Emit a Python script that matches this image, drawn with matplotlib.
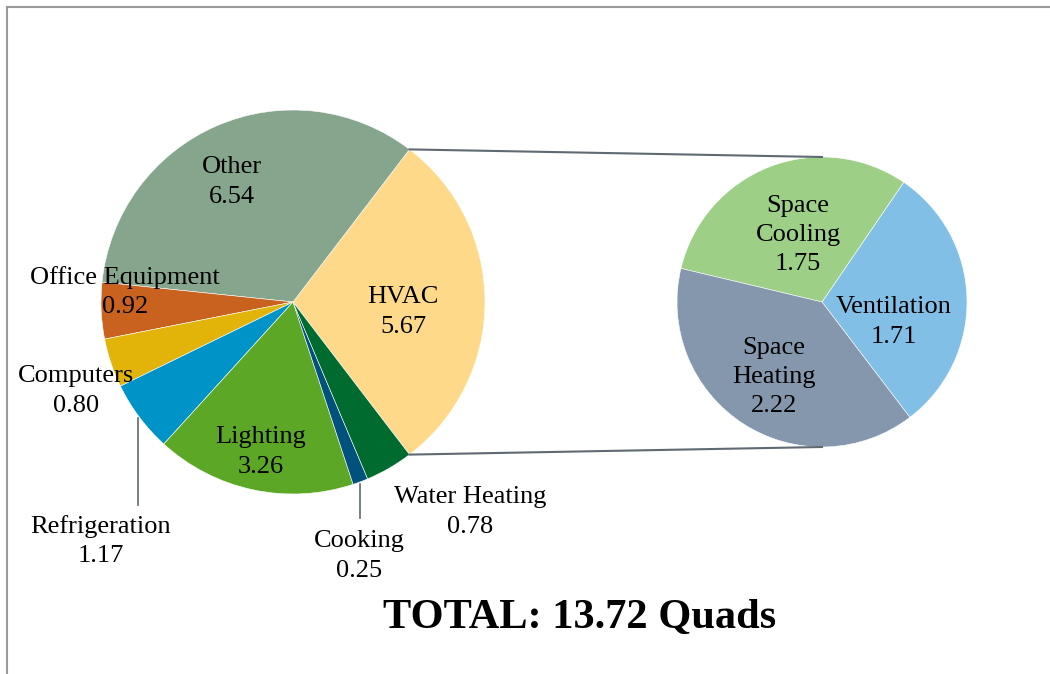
import matplotlib.pyplot as plt
import numpy as np

# Energieverbrauch nach Endnutzung (Quads)
main_labels = ["HVAC", "Other", "Office Equipment", "Computers", "Refrigeration",
               "Lighting", "Cooking", "Water Heating"]
main_values = [5.67, 6.54, 0.92, 0.80, 1.17, 3.26, 0.25, 0.78]
main_colors = ["#FFD98A", "#85A58C", "#C8621E", "#E2B40A", "#0093C8",
               "#5CA826", "#00527C", "#006B2E"]

sub_labels = ["Ventilation", "Space\nCooling", "Space\nHeating"]
sub_values = [1.71, 1.75, 2.22]
sub_colors = ["#82BFE6", "#9DCF87", "#8497AD"]

total_text = "TOTAL: 13.72 Quads"

plt.rcParams['font.family'] = ['Liberation Serif', 'DejaVu Serif']

W, H = 1050, 674
fig = plt.figure(figsize=(10.5, 6.74), dpi=100)
ax = fig.add_axes([0, 0, 1, 1])

# Rahmen oben und links
ax.plot([7, W], [H - 7, H - 7], color='#9a9a9a', lw=1.5)
ax.plot([7, 7], [H - 7, 0], color='#9a9a9a', lw=1.5)

main_c = (293, H - 302)
main_r = 192
sub_c = (822, H - 302)
sub_r = 145

start_main = -main_values[0] / sum(main_values) * 180
wedges_main, _ = ax.pie(main_values, colors=main_colors, startangle=start_main,
                        center=main_c, radius=main_r, frame=True,
                        wedgeprops=dict(edgecolor='white', linewidth=0.4))

start_sub = -sub_values[0] / sum(sub_values) * 180 + 1.5
wedges_sub, _ = ax.pie(sub_values, colors=sub_colors, startangle=start_sub,
                       center=sub_c, radius=sub_r, frame=True,
                       wedgeprops=dict(edgecolor='white', linewidth=0.4))
ax.set_xlim(0, W)
ax.set_ylim(0, H)
ax.set_aspect('equal')
ax.axis('off')

# Verbindungslinien zum zweiten Kreis
hv = wedges_main[0]
for th, sy in [(hv.theta2, 1), (hv.theta1, -1)]:
    x0 = main_c[0] + main_r * np.cos(np.radians(th))
    y0 = main_c[1] + main_r * np.sin(np.radians(th))
    ax.plot([x0, sub_c[0]], [y0, sub_c[1] + sy * sub_r], color='#5f6a73', lw=1.5)

fs = 19
ls = 1.42
dy = 3
label_pos = {
    "HVAC": (403, 309),
    "Other": (232, 179),
    "Office Equipment": (125, 289),
    "Computers": (76, 388),
    "Refrigeration": (101, 538),
    "Lighting": (261, 449),
    "Cooking": (359, 553),
    "Water Heating": (470, 509),
}
for name, val in zip(main_labels, main_values):
    x, y = label_pos[name]
    ax.text(x, H - y - dy, name + "\n" + f"{val:.2f}", ha='center', va='center',
            fontsize=fs, linespacing=ls)

sub_pos = [(894, 319), (798, 232), (774, 374)]
for name, val, (x, y) in zip(sub_labels, sub_values, sub_pos):
    ax.text(x, H - y - dy, name + "\n" + f"{val:.2f}", ha='center', va='center',
            fontsize=fs, linespacing=ls)

# Führungslinien
ax.plot([138, 138], [H - 418, H - 505], color='#5f6a73', lw=1.2)
ax.plot([360, 360], [H - 484, H - 518], color='#5f6a73', lw=1.2)

ax.text(580, H - 618, total_text, ha='center', va='center', fontsize=30.5,
        fontweight='bold')

plt.savefig('out.png', dpi=100)
